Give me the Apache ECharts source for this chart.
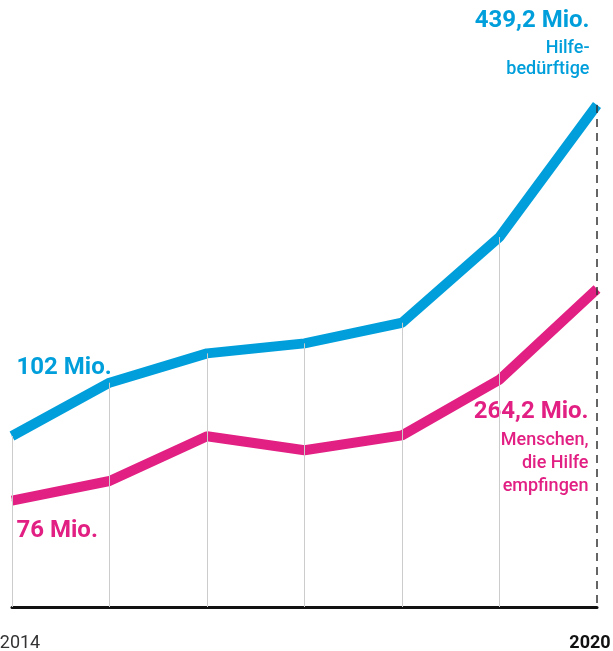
<!DOCTYPE html>
<html>
<head>
<meta charset="utf-8">
<script src="https://cdn.jsdelivr.net/npm/echarts@6/dist/echarts.min.js"></script>
<style>
  html, body { margin: 0; padding: 0; background: #ffffff; }
  #chart { width: 613px; height: 651px; }
</style>
</head>
<body>
<div id="chart"></div>
<script>
// Years on the x axis
const years = ['2014', '2015', '2016', '2017', '2018', '2019', '2020'];
// People in need of humanitarian aid (millions)
const inNeed = [102, 156.3, 186.2, 196.4, 217.4, 304.7, 439.2];
// People who received aid (millions)
const reached = [76, 93.5, 133.3, 120.8, 134.1, 183.6, 264.2];

// Value ranges of the two (hidden) value axes
const needRange = [-72.2, 546.2];
const reachedRange = [-18.5, 521.1];

const BLUE = '#009fdb';
const PINK = '#e21f82';
const FONT = 'Roboto, "Noto Sans", sans-serif';

const fmt = v => String(v).replace('.', ',') + ' Mio.';

// vertical guide lines from the upper curve down to the baseline
const guides = inNeed.map((v, i) => {
  const last = i === inNeed.length - 1;
  return [
    { coord: [i, v], lineStyle: last
        ? { color: '#333333', width: 1.5, type: [8, 6] }
        : { color: '#cccccc', width: 1, type: 'solid' } },
    { coord: [i, needRange[0]] }
  ];
});

const chart = echarts.init(document.getElementById('chart'), null, { renderer: 'canvas' });

chart.setOption({
  backgroundColor: '#ffffff',
  animation: false,
  grid: { left: 12, right: 16, top: 0, bottom: 44, containLabel: false, outerBoundsMode: 'none' },
  xAxis: {
    type: 'category',
    data: years,
    boundaryGap: false,
    axisLine: { show: true, onZero: false, lineStyle: { color: '#111111', width: 3 } },
    axisTick: { show: false },
    splitLine: { show: false },
    axisLabel: {
      interval: 0,
      margin: 27,
      fontFamily: FONT,
      formatter: (val, idx) => {
        if (idx === 0) return '{s|}{a|' + val + '}';
        if (idx === years.length - 1) return '{b|' + val + '}{t|}';
        return '';
      },
      rich: {
        a: { fontSize: 18, color: '#333333', fontFamily: FONT, lineHeight: 18 },
        b: { fontSize: 18, color: '#111111', fontWeight: 'bold', fontFamily: FONT, lineHeight: 18 },
        s: { width: 16 },
        t: { width: 14 }
      }
    }
  },
  yAxis: [
    { type: 'value', min: needRange[0], max: needRange[1], show: false, splitLine: { show: false } },
    { type: 'value', min: reachedRange[0], max: reachedRange[1], show: false, splitLine: { show: false } }
  ],
  series: [
    {
      name: 'guides',
      type: 'line',
      yAxisIndex: 0,
      data: inNeed,
      symbol: 'none',
      lineStyle: { opacity: 0 },
      z: 1,
      silent: true,
      markLine: {
        silent: true,
        symbol: ['none', 'none'],
        label: { show: false },
        data: guides
      }
    },
    {
      name: 'Menschen, die Hilfe empfingen',
      type: 'line',
      yAxisIndex: 1,
      z: 3,
      symbol: 'circle',
      symbolSize: 1,
      showSymbol: true,
      itemStyle: { color: PINK },
      lineStyle: { color: PINK, width: 10, cap: 'butt' },
      data: reached.map((v, i) => {
        if (i === 0) {
          return { value: v, label: {
            show: true, position: [5, 31], align: 'left', verticalAlign: 'middle',
            formatter: p => fmt(p.value), color: PINK, fontSize: 24, fontWeight: 'bold', fontFamily: FONT
          } };
        }
        if (i === reached.length - 1) {
          return { value: v, label: {
            show: true, position: [-8, 107], align: 'right', verticalAlign: 'top',
            formatter: p => '{big|' + fmt(p.value) + '}\n{small|Menschen,}\n{small|die Hilfe}\n{small|empfingen}',
            rich: {
              big: { color: PINK, fontSize: 24, fontWeight: 'bold', fontFamily: FONT, lineHeight: 34, align: 'right' },
              small: { color: PINK, fontSize: 18, fontWeight: 500, fontFamily: FONT, lineHeight: 23, align: 'right' }
            }
          } };
        }
        return v;
      })
    },
    {
      name: 'Hilfebedürftige',
      type: 'line',
      yAxisIndex: 0,
      z: 4,
      symbol: 'circle',
      symbolSize: 1,
      showSymbol: true,
      itemStyle: { color: BLUE },
      lineStyle: { color: BLUE, width: 10, cap: 'butt' },
      data: inNeed.map((v, i) => {
        if (i === 0) {
          return { value: v, label: {
            show: true, position: [5, -68], align: 'left', verticalAlign: 'middle',
            formatter: p => fmt(p.value), color: BLUE, fontSize: 24, fontWeight: 'bold', fontFamily: FONT
          } };
        }
        if (i === inNeed.length - 1) {
          return { value: v, label: {
            show: true, position: [-7, -101], align: 'right', verticalAlign: 'top',
            formatter: p => '{big|' + fmt(p.value) + '}\n{small|Hilfe-}\n{small|bedürftige}',
            rich: {
              big: { color: BLUE, fontSize: 24, fontWeight: 'bold', fontFamily: FONT, lineHeight: 34, align: 'right' },
              small: { color: BLUE, fontSize: 18, fontWeight: 500, fontFamily: FONT, lineHeight: 21, align: 'right' }
            }
          } };
        }
        return v;
      })
    }
  ]
});
</script>
</body>
</html>
